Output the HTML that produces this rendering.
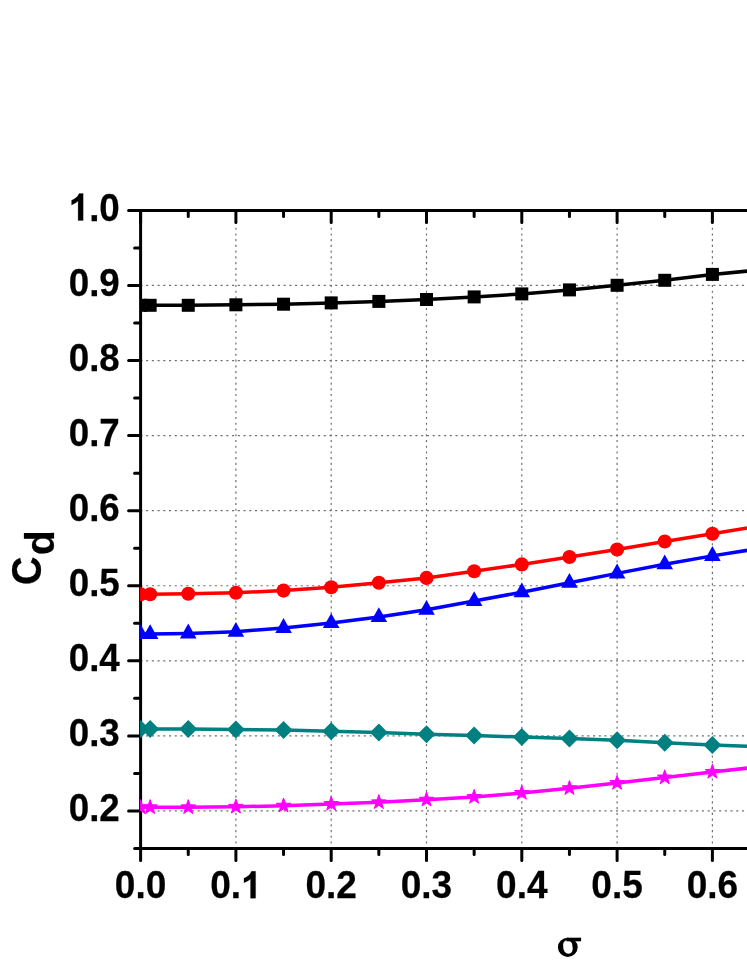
<!DOCTYPE html>
<html><head><meta charset="utf-8"><title>chart</title>
<style>
html,body{margin:0;padding:0;background:#fff;}
body{width:747px;height:967px;overflow:hidden;}
svg{display:block;}
text{font-family:"Liberation Sans",sans-serif;fill:#000;stroke:#000;stroke-width:0.25px;}
.t{font-weight:bold;font-size:37.5px;}
</style></head><body>
<svg width="747" height="967" viewBox="0 0 747 967">
<rect width="747" height="967" fill="#fff"/>
<defs><filter id="gs" x="0" y="0" width="747" height="967" filterUnits="userSpaceOnUse" color-interpolation-filters="sRGB"><feColorMatrix type="saturate" values="0"/></filter><clipPath id="cp"><rect x="140.1" y="210.4" width="616.4" height="638.2"/></clipPath></defs>

<g stroke="#707070" stroke-width="1.2" stroke-dasharray="2.1 3.63" fill="none"><line x1="235.90" y1="210.4" x2="235.90" y2="848.6" stroke-dasharray="2.1 3.637" stroke-dashoffset="-0.03"/><line x1="331.20" y1="210.4" x2="331.20" y2="848.6" stroke-dasharray="2.1 3.637" stroke-dashoffset="-0.03"/><line x1="426.50" y1="210.4" x2="426.50" y2="848.6" stroke-dasharray="2.1 3.637" stroke-dashoffset="-0.03"/><line x1="521.80" y1="210.4" x2="521.80" y2="848.6" stroke-dasharray="2.1 3.637" stroke-dashoffset="-0.03"/><line x1="617.10" y1="210.4" x2="617.10" y2="848.6" stroke-dasharray="2.1 3.637" stroke-dashoffset="-0.03"/><line x1="712.40" y1="210.4" x2="712.40" y2="848.6" stroke-dasharray="2.1 3.637" stroke-dashoffset="-0.03"/><line x1="807.70" y1="210.4" x2="807.70" y2="848.6" stroke-dasharray="2.1 3.637" stroke-dashoffset="-0.03"/><line x1="140.6" y1="810.96" x2="752" y2="810.96" stroke-dashoffset="0.25"/><line x1="140.6" y1="735.89" x2="752" y2="735.89" stroke-dashoffset="0.25"/><line x1="140.6" y1="660.82" x2="752" y2="660.82" stroke-dashoffset="0.25"/><line x1="140.6" y1="585.75" x2="752" y2="585.75" stroke-dashoffset="0.25"/><line x1="140.6" y1="510.68" x2="752" y2="510.68" stroke-dashoffset="0.25"/><line x1="140.6" y1="435.61" x2="752" y2="435.61" stroke-dashoffset="0.25"/><line x1="140.6" y1="360.54" x2="752" y2="360.54" stroke-dashoffset="0.25"/><line x1="140.6" y1="285.47" x2="752" y2="285.47" stroke-dashoffset="0.25"/></g>
<g stroke="#000" stroke-width="3" stroke-linecap="round" fill="none"><line x1="140.6" y1="210.4" x2="752" y2="210.4"/><line x1="140.6" y1="848.6" x2="752" y2="848.6"/><line x1="140.6" y1="210.4" x2="140.6" y2="848.6"/><line x1="140.60" y1="849.6" x2="140.60" y2="860.6"/><line x1="140.60" y1="211.4" x2="140.60" y2="222.4"/><line x1="188.25" y1="849.6" x2="188.25" y2="854.6"/><line x1="188.25" y1="211.4" x2="188.25" y2="216.4"/><line x1="235.90" y1="849.6" x2="235.90" y2="860.6"/><line x1="235.90" y1="211.4" x2="235.90" y2="222.4"/><line x1="283.55" y1="849.6" x2="283.55" y2="854.6"/><line x1="283.55" y1="211.4" x2="283.55" y2="216.4"/><line x1="331.20" y1="849.6" x2="331.20" y2="860.6"/><line x1="331.20" y1="211.4" x2="331.20" y2="222.4"/><line x1="378.85" y1="849.6" x2="378.85" y2="854.6"/><line x1="378.85" y1="211.4" x2="378.85" y2="216.4"/><line x1="426.50" y1="849.6" x2="426.50" y2="860.6"/><line x1="426.50" y1="211.4" x2="426.50" y2="222.4"/><line x1="474.15" y1="849.6" x2="474.15" y2="854.6"/><line x1="474.15" y1="211.4" x2="474.15" y2="216.4"/><line x1="521.80" y1="849.6" x2="521.80" y2="860.6"/><line x1="521.80" y1="211.4" x2="521.80" y2="222.4"/><line x1="569.45" y1="849.6" x2="569.45" y2="854.6"/><line x1="569.45" y1="211.4" x2="569.45" y2="216.4"/><line x1="617.10" y1="849.6" x2="617.10" y2="860.6"/><line x1="617.10" y1="211.4" x2="617.10" y2="222.4"/><line x1="664.75" y1="849.6" x2="664.75" y2="854.6"/><line x1="664.75" y1="211.4" x2="664.75" y2="216.4"/><line x1="712.40" y1="849.6" x2="712.40" y2="860.6"/><line x1="712.40" y1="211.4" x2="712.40" y2="222.4"/><line x1="139.6" y1="848.50" x2="134.6" y2="848.50"/><line x1="139.6" y1="810.96" x2="128.6" y2="810.96"/><line x1="139.6" y1="773.43" x2="134.6" y2="773.43"/><line x1="139.6" y1="735.89" x2="128.6" y2="735.89"/><line x1="139.6" y1="698.36" x2="134.6" y2="698.36"/><line x1="139.6" y1="660.82" x2="128.6" y2="660.82"/><line x1="139.6" y1="623.29" x2="134.6" y2="623.29"/><line x1="139.6" y1="585.75" x2="128.6" y2="585.75"/><line x1="139.6" y1="548.22" x2="134.6" y2="548.22"/><line x1="139.6" y1="510.68" x2="128.6" y2="510.68"/><line x1="139.6" y1="473.14" x2="134.6" y2="473.14"/><line x1="139.6" y1="435.61" x2="128.6" y2="435.61"/><line x1="139.6" y1="398.08" x2="134.6" y2="398.08"/><line x1="139.6" y1="360.54" x2="128.6" y2="360.54"/><line x1="139.6" y1="323.00" x2="134.6" y2="323.00"/><line x1="139.6" y1="285.47" x2="128.6" y2="285.47"/><line x1="139.6" y1="247.93" x2="134.6" y2="247.93"/><line x1="139.6" y1="210.40" x2="128.6" y2="210.40"/></g>
<g clip-path="url(#cp)">
<polyline points="140.60,305.30 150.13,305.30 188.25,305.30 235.90,304.80 283.55,304.20 331.20,302.90 378.85,301.40 426.50,299.50 474.15,296.90 521.80,293.90 569.45,289.90 617.10,285.30 664.75,280.30 712.40,274.40 760.05,269.90" fill="none" stroke="#000000" stroke-width="3.5" stroke-linejoin="round"/>
<rect x="134.10" y="298.80" width="13.0" height="13.0" fill="#000000"/>
<rect x="143.63" y="298.80" width="13.0" height="13.0" fill="#000000"/>
<rect x="181.75" y="298.80" width="13.0" height="13.0" fill="#000000"/>
<rect x="229.40" y="298.30" width="13.0" height="13.0" fill="#000000"/>
<rect x="277.05" y="297.70" width="13.0" height="13.0" fill="#000000"/>
<rect x="324.70" y="296.40" width="13.0" height="13.0" fill="#000000"/>
<rect x="372.35" y="294.90" width="13.0" height="13.0" fill="#000000"/>
<rect x="420.00" y="293.00" width="13.0" height="13.0" fill="#000000"/>
<rect x="467.65" y="290.40" width="13.0" height="13.0" fill="#000000"/>
<rect x="515.30" y="287.40" width="13.0" height="13.0" fill="#000000"/>
<rect x="562.95" y="283.40" width="13.0" height="13.0" fill="#000000"/>
<rect x="610.60" y="278.80" width="13.0" height="13.0" fill="#000000"/>
<rect x="658.25" y="273.80" width="13.0" height="13.0" fill="#000000"/>
<rect x="705.90" y="267.90" width="13.0" height="13.0" fill="#000000"/>
<rect x="753.55" y="263.40" width="13.0" height="13.0" fill="#000000"/>
<polyline points="140.60,594.20 150.13,594.20 188.25,593.80 235.90,592.70 283.55,590.60 331.20,587.20 378.85,582.70 426.50,577.90 474.15,571.20 521.80,564.40 569.45,557.00 617.10,549.50 664.75,541.50 712.40,533.70 760.05,525.85" fill="none" stroke="#ff0000" stroke-width="3.5" stroke-linejoin="round"/>
<circle cx="140.60" cy="594.20" r="7.05" fill="#ff0000"/>
<circle cx="150.13" cy="594.20" r="7.05" fill="#ff0000"/>
<circle cx="188.25" cy="593.80" r="7.05" fill="#ff0000"/>
<circle cx="235.90" cy="592.70" r="7.05" fill="#ff0000"/>
<circle cx="283.55" cy="590.60" r="7.05" fill="#ff0000"/>
<circle cx="331.20" cy="587.20" r="7.05" fill="#ff0000"/>
<circle cx="378.85" cy="582.70" r="7.05" fill="#ff0000"/>
<circle cx="426.50" cy="577.90" r="7.05" fill="#ff0000"/>
<circle cx="474.15" cy="571.20" r="7.05" fill="#ff0000"/>
<circle cx="521.80" cy="564.40" r="7.05" fill="#ff0000"/>
<circle cx="569.45" cy="557.00" r="7.05" fill="#ff0000"/>
<circle cx="617.10" cy="549.50" r="7.05" fill="#ff0000"/>
<circle cx="664.75" cy="541.50" r="7.05" fill="#ff0000"/>
<circle cx="712.40" cy="533.70" r="7.05" fill="#ff0000"/>
<circle cx="760.05" cy="525.85" r="7.05" fill="#ff0000"/>
<polyline points="140.60,634.00 150.13,634.00 188.25,633.40 235.90,631.70 283.55,627.90 331.20,623.10 378.85,617.00 426.50,609.80 474.15,601.00 521.80,592.20 569.45,582.70 617.10,573.40 664.75,564.30 712.40,555.90 760.05,548.30" fill="none" stroke="#0000ff" stroke-width="3.5" stroke-linejoin="round"/>
<polygon points="140.60,624.20 148.90,639.00 132.30,639.00" fill="#0000ff"/>
<polygon points="150.13,624.20 158.43,639.00 141.83,639.00" fill="#0000ff"/>
<polygon points="188.25,623.60 196.55,638.40 179.95,638.40" fill="#0000ff"/>
<polygon points="235.90,621.90 244.20,636.70 227.60,636.70" fill="#0000ff"/>
<polygon points="283.55,618.10 291.85,632.90 275.25,632.90" fill="#0000ff"/>
<polygon points="331.20,613.30 339.50,628.10 322.90,628.10" fill="#0000ff"/>
<polygon points="378.85,607.20 387.15,622.00 370.55,622.00" fill="#0000ff"/>
<polygon points="426.50,600.00 434.80,614.80 418.20,614.80" fill="#0000ff"/>
<polygon points="474.15,591.20 482.45,606.00 465.85,606.00" fill="#0000ff"/>
<polygon points="521.80,582.40 530.10,597.20 513.50,597.20" fill="#0000ff"/>
<polygon points="569.45,572.90 577.75,587.70 561.15,587.70" fill="#0000ff"/>
<polygon points="617.10,563.60 625.40,578.40 608.80,578.40" fill="#0000ff"/>
<polygon points="664.75,554.50 673.05,569.30 656.45,569.30" fill="#0000ff"/>
<polygon points="712.40,546.10 720.70,560.90 704.10,560.90" fill="#0000ff"/>
<polygon points="760.05,538.50 768.35,553.30 751.75,553.30" fill="#0000ff"/>
<polyline points="140.60,728.90 150.13,728.90 188.25,729.00 235.90,729.40 283.55,730.10 331.20,731.30 378.85,732.60 426.50,734.20 474.15,735.50 521.80,737.00 569.45,738.60 617.10,740.30 664.75,742.70 712.40,745.00 760.05,746.80" fill="none" stroke="#008080" stroke-width="3.5" stroke-linejoin="round"/>
<polygon points="140.60,719.90 149.60,728.90 140.60,737.90 131.60,728.90" fill="#008080"/>
<polygon points="150.13,719.90 159.13,728.90 150.13,737.90 141.13,728.90" fill="#008080"/>
<polygon points="188.25,720.00 197.25,729.00 188.25,738.00 179.25,729.00" fill="#008080"/>
<polygon points="235.90,720.40 244.90,729.40 235.90,738.40 226.90,729.40" fill="#008080"/>
<polygon points="283.55,721.10 292.55,730.10 283.55,739.10 274.55,730.10" fill="#008080"/>
<polygon points="331.20,722.30 340.20,731.30 331.20,740.30 322.20,731.30" fill="#008080"/>
<polygon points="378.85,723.60 387.85,732.60 378.85,741.60 369.85,732.60" fill="#008080"/>
<polygon points="426.50,725.20 435.50,734.20 426.50,743.20 417.50,734.20" fill="#008080"/>
<polygon points="474.15,726.50 483.15,735.50 474.15,744.50 465.15,735.50" fill="#008080"/>
<polygon points="521.80,728.00 530.80,737.00 521.80,746.00 512.80,737.00" fill="#008080"/>
<polygon points="569.45,729.60 578.45,738.60 569.45,747.60 560.45,738.60" fill="#008080"/>
<polygon points="617.10,731.30 626.10,740.30 617.10,749.30 608.10,740.30" fill="#008080"/>
<polygon points="664.75,733.70 673.75,742.70 664.75,751.70 655.75,742.70" fill="#008080"/>
<polygon points="712.40,736.00 721.40,745.00 712.40,754.00 703.40,745.00" fill="#008080"/>
<polygon points="760.05,737.80 769.05,746.80 760.05,755.80 751.05,746.80" fill="#008080"/>
<polyline points="140.60,807.30 150.13,807.30 188.25,807.30 235.90,806.80 283.55,805.70 331.20,804.00 378.85,802.30 426.50,799.70 474.15,797.00 521.80,793.00 569.45,788.20 617.10,783.00 664.75,777.50 712.40,771.90 760.05,766.70" fill="none" stroke="#ff00ff" stroke-width="3.5" stroke-linejoin="round"/>
<polygon points="140.60,799.60 142.42,804.79 147.92,804.92 143.55,808.26 145.13,813.53 140.60,810.40 136.07,813.53 137.65,808.26 133.28,804.92 138.78,804.79" fill="#ff00ff" stroke="#ff00ff" stroke-width="1.0" stroke-linejoin="round"/>
<polygon points="150.13,799.60 151.95,804.79 157.45,804.92 153.08,808.26 154.66,813.53 150.13,810.40 145.60,813.53 147.18,808.26 142.81,804.92 148.31,804.79" fill="#ff00ff" stroke="#ff00ff" stroke-width="1.0" stroke-linejoin="round"/>
<polygon points="188.25,799.60 190.07,804.79 195.57,804.92 191.20,808.26 192.78,813.53 188.25,810.40 183.72,813.53 185.30,808.26 180.93,804.92 186.43,804.79" fill="#ff00ff" stroke="#ff00ff" stroke-width="1.0" stroke-linejoin="round"/>
<polygon points="235.90,799.10 237.72,804.29 243.22,804.42 238.85,807.76 240.43,813.03 235.90,809.90 231.37,813.03 232.95,807.76 228.58,804.42 234.08,804.29" fill="#ff00ff" stroke="#ff00ff" stroke-width="1.0" stroke-linejoin="round"/>
<polygon points="283.55,798.00 285.37,803.19 290.87,803.32 286.50,806.66 288.08,811.93 283.55,808.80 279.02,811.93 280.60,806.66 276.23,803.32 281.73,803.19" fill="#ff00ff" stroke="#ff00ff" stroke-width="1.0" stroke-linejoin="round"/>
<polygon points="331.20,796.30 333.02,801.49 338.52,801.62 334.15,804.96 335.73,810.23 331.20,807.10 326.67,810.23 328.25,804.96 323.88,801.62 329.38,801.49" fill="#ff00ff" stroke="#ff00ff" stroke-width="1.0" stroke-linejoin="round"/>
<polygon points="378.85,794.60 380.67,799.79 386.17,799.92 381.80,803.26 383.38,808.53 378.85,805.40 374.32,808.53 375.90,803.26 371.53,799.92 377.03,799.79" fill="#ff00ff" stroke="#ff00ff" stroke-width="1.0" stroke-linejoin="round"/>
<polygon points="426.50,792.00 428.32,797.19 433.82,797.32 429.45,800.66 431.03,805.93 426.50,802.80 421.97,805.93 423.55,800.66 419.18,797.32 424.68,797.19" fill="#ff00ff" stroke="#ff00ff" stroke-width="1.0" stroke-linejoin="round"/>
<polygon points="474.15,789.30 475.97,794.49 481.47,794.62 477.10,797.96 478.68,803.23 474.15,800.10 469.62,803.23 471.20,797.96 466.83,794.62 472.33,794.49" fill="#ff00ff" stroke="#ff00ff" stroke-width="1.0" stroke-linejoin="round"/>
<polygon points="521.80,785.30 523.62,790.49 529.12,790.62 524.75,793.96 526.33,799.23 521.80,796.10 517.27,799.23 518.85,793.96 514.48,790.62 519.98,790.49" fill="#ff00ff" stroke="#ff00ff" stroke-width="1.0" stroke-linejoin="round"/>
<polygon points="569.45,780.50 571.27,785.69 576.77,785.82 572.40,789.16 573.98,794.43 569.45,791.30 564.92,794.43 566.50,789.16 562.13,785.82 567.63,785.69" fill="#ff00ff" stroke="#ff00ff" stroke-width="1.0" stroke-linejoin="round"/>
<polygon points="617.10,775.30 618.92,780.49 624.42,780.62 620.05,783.96 621.63,789.23 617.10,786.10 612.57,789.23 614.15,783.96 609.78,780.62 615.28,780.49" fill="#ff00ff" stroke="#ff00ff" stroke-width="1.0" stroke-linejoin="round"/>
<polygon points="664.75,769.80 666.57,774.99 672.07,775.12 667.70,778.46 669.28,783.73 664.75,780.60 660.22,783.73 661.80,778.46 657.43,775.12 662.93,774.99" fill="#ff00ff" stroke="#ff00ff" stroke-width="1.0" stroke-linejoin="round"/>
<polygon points="712.40,764.20 714.22,769.39 719.72,769.52 715.35,772.86 716.93,778.13 712.40,775.00 707.87,778.13 709.45,772.86 705.08,769.52 710.58,769.39" fill="#ff00ff" stroke="#ff00ff" stroke-width="1.0" stroke-linejoin="round"/>
<polygon points="760.05,759.00 761.87,764.19 767.37,764.32 763.00,767.66 764.58,772.93 760.05,769.80 755.52,772.93 757.10,767.66 752.73,764.32 758.23,764.19" fill="#ff00ff" stroke="#ff00ff" stroke-width="1.0" stroke-linejoin="round"/>
</g>
<g filter="url(#gs)">
<g transform="translate(119.8,0) scale(0.98,1) translate(-119.8,0)"><text class="t" transform="translate(67.67,821.06) scale(1,1.04)">0.2</text></g>
<g transform="translate(119.8,0) scale(0.98,1) translate(-119.8,0)"><text class="t" transform="translate(67.67,745.99) scale(1,1.04)">0.3</text></g>
<g transform="translate(119.8,0) scale(0.98,1) translate(-119.8,0)"><text class="t" transform="translate(67.67,670.92) scale(1,1.04)">0.4</text></g>
<g transform="translate(119.8,0) scale(0.98,1) translate(-119.8,0)"><text class="t" transform="translate(67.67,595.85) scale(1,1.04)">0.5</text></g>
<g transform="translate(119.8,0) scale(0.98,1) translate(-119.8,0)"><text class="t" transform="translate(67.67,520.78) scale(1,1.04)">0.6</text></g>
<g transform="translate(119.8,0) scale(0.98,1) translate(-119.8,0)"><text class="t" transform="translate(67.67,445.71) scale(1,1.04)">0.7</text></g>
<g transform="translate(119.8,0) scale(0.98,1) translate(-119.8,0)"><text class="t" transform="translate(67.67,370.64) scale(1,1.04)">0.8</text></g>
<g transform="translate(119.8,0) scale(0.98,1) translate(-119.8,0)"><text class="t" transform="translate(67.67,295.57) scale(1,1.04)">0.9</text></g>
<g transform="translate(119.8,0) scale(0.98,1) translate(-119.8,0)"><path d="M806 0H525V1059Q371 915 162 846V1101Q272 1137 401 1237.5Q530 1338 578 1472H806Z" transform="translate(67.67,220.50) scale(0.01831,-0.01831)" fill="#000" stroke="#000" stroke-width="13.7"/><text class="t" transform="translate(88.53,220.50) scale(1,1.04)">.0</text></g>
<g transform="translate(140.60,0) scale(0.987,1) translate(-140.60,0)"><text class="t" transform="translate(114.53,898.30) scale(1,1.04)">0.0</text></g>
<g transform="translate(235.90,0) scale(0.987,1) translate(-235.90,0)"><text class="t" transform="translate(209.83,898.30) scale(1,1.04)">0.</text><path d="M806 0H525V1059Q371 915 162 846V1101Q272 1137 401 1237.5Q530 1338 578 1472H806Z" transform="translate(241.11,898.30) scale(0.01831,-0.01831)" fill="#000" stroke="#000" stroke-width="13.7"/></g>
<g transform="translate(331.20,0) scale(0.987,1) translate(-331.20,0)"><text class="t" transform="translate(305.13,898.30) scale(1,1.04)">0.2</text></g>
<g transform="translate(426.50,0) scale(0.987,1) translate(-426.50,0)"><text class="t" transform="translate(400.43,898.30) scale(1,1.04)">0.3</text></g>
<g transform="translate(521.80,0) scale(0.987,1) translate(-521.80,0)"><text class="t" transform="translate(495.73,898.30) scale(1,1.04)">0.4</text></g>
<g transform="translate(617.10,0) scale(0.987,1) translate(-617.10,0)"><text class="t" transform="translate(591.03,898.30) scale(1,1.04)">0.5</text></g>
<g transform="translate(712.40,0) scale(0.987,1) translate(-712.40,0)"><text class="t" transform="translate(686.33,898.30) scale(1,1.04)">0.6</text></g>
<text transform="translate(40.65,585.0) rotate(-90) scale(0.988,1.04)" style="font-weight:bold;font-size:40px">C</text>
<text transform="translate(54.1,555.35) rotate(-90) scale(1.025,1.01)" style="font-weight:bold;font-size:40px">d</text>
<g fill="#000"><path fill-rule="evenodd" d="M557.9,947.3 a9.9,9.6 0 1,0 19.8,0 a9.9,9.6 0 1,0 -19.8,0 Z M563.25,947.0 a4.7,5.6 -18 1,1 9.3,0 a4.7,5.6 -18 1,1 -9.3,0 Z"/><rect x="566.5" y="937.7" width="14.6" height="3.6"/></g>
</g>
</svg></body></html>
